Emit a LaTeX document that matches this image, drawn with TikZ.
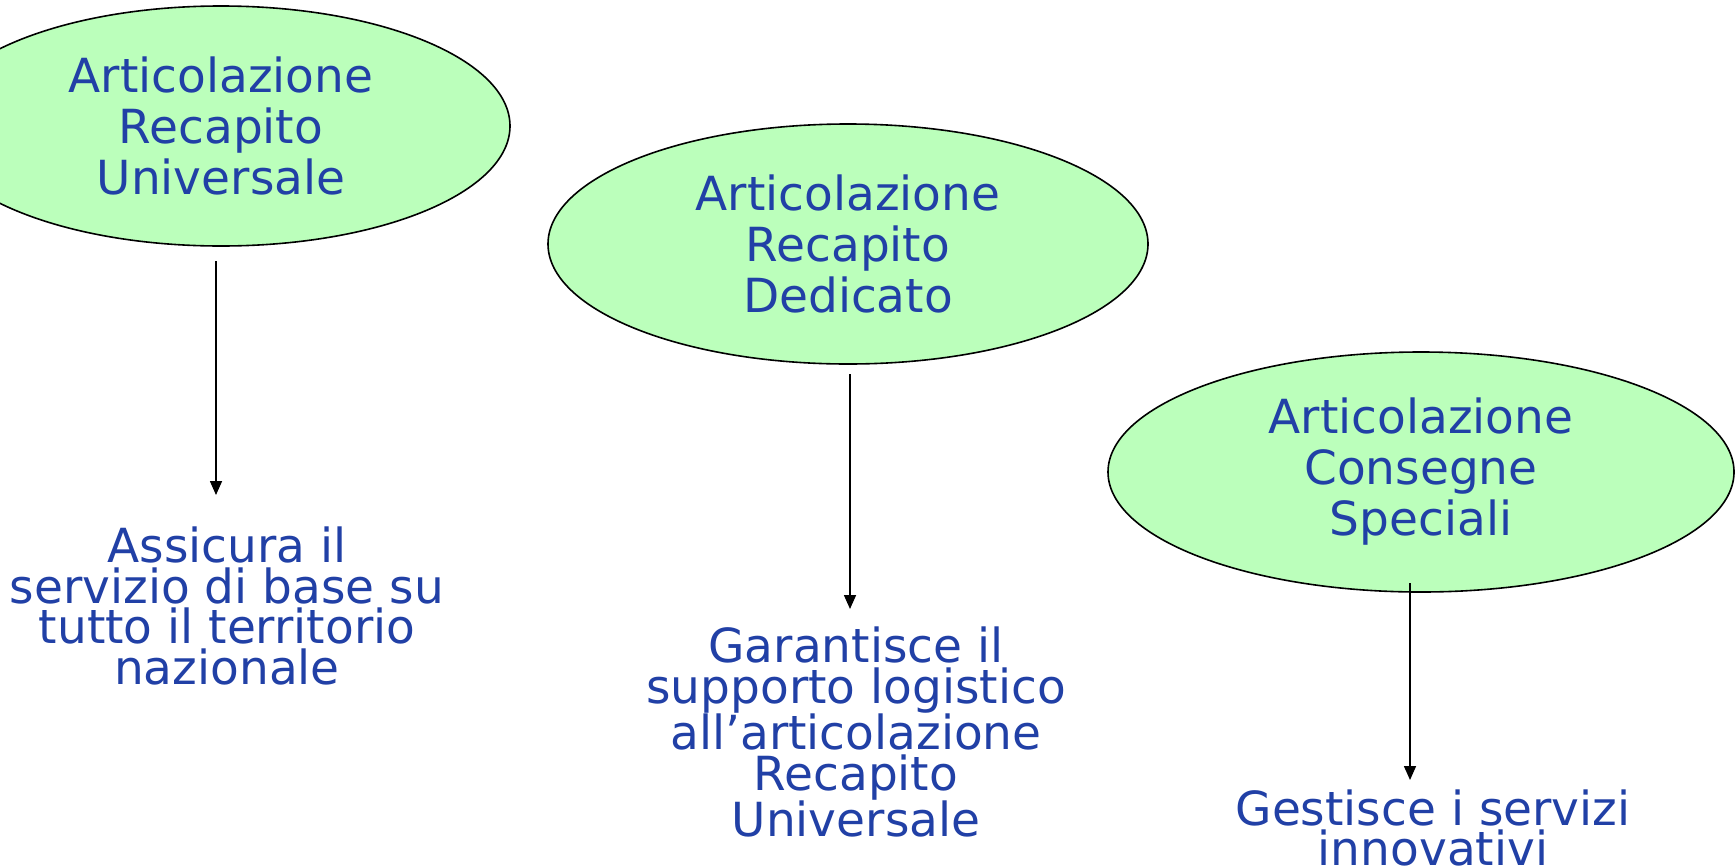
\documentclass[tikz,border=0pt]{standalone}
\usepackage{fontspec}
\setmainfont{DejaVu Sans}
\usetikzlibrary{shapes.geometric,arrows.meta}
\definecolor{txtblue}{RGB}{33,64,166}
\definecolor{ellfill}{RGB}{187,255,187}
\tikzset{
  ell/.style={ellipse, draw=black, line width=1.6pt, fill=ellfill, inner sep=0pt,
    minimum height=240pt, text=txtblue, align=center,
    font=\fontsize{47}{51}\selectfont},
  desc/.style={text=txtblue, align=center, inner sep=0pt,
    font=\fontsize{47}{40.5}\selectfont},
  arr/.style={draw=black, line width=1.6pt, -{Triangle[length=14pt,width=12pt]}}
}
\begin{document}
\begin{tikzpicture}[x=1pt,y=-1pt]
\clip (0,0) rectangle (1736,865);
\fill[white] (0,0) rectangle (1736,865);
\node[ell, minimum width=578pt] (e1) at (221,126) {Articolazione\\Recapito\\Universale};
\node[ell, minimum width=600pt] (e2) at (848,244) {Articolazione\\Recapito\\Dedicato};
\node[ell, minimum width=626pt] (e3) at (1421,472) {Articolazione\\Consegne\\Speciali};
\node[desc] (t1) at (227,606) {Assicura il\\servizio di base su\\tutto il territorio\\nazionale};
\node[desc] (t2) at (856,732) {Garantisce il\\supporto logistico\\all’articolazione\\Recapito\\Universale};
\node[desc] (t3) at (1433,828) {Gestisce i servizi\\innovativi};
\coordinate (a1s) at (216,261);
\coordinate (a1e) at (216,495);
\coordinate (a2s) at (850,374);
\coordinate (a2e) at (850,609);
\coordinate (a3s) at (1410,583);
\coordinate (a3e) at (1410,780);
\draw[arr] (a1s) -- (a1e);
\draw[arr] (a2s) -- (a2e);
\draw[arr] (a3s) -- (a3e);
\end{tikzpicture}
\end{document}
